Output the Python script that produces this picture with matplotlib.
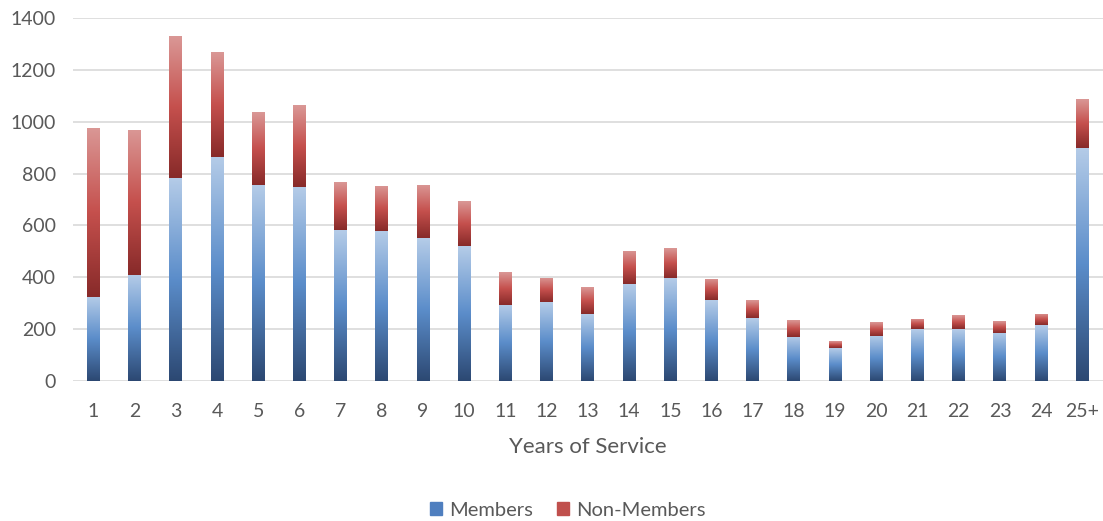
import numpy as np
import matplotlib.pyplot as plt
from matplotlib.colors import LinearSegmentedColormap
from matplotlib.patches import Patch

years = ["1", "2", "3", "4", "5", "6", "7", "8", "9", "10", "11", "12", "13",
         "14", "15", "16", "17", "18", "19", "20", "21", "22", "23", "24", "25+"]
members = [325, 410, 785, 865, 758, 750, 582, 580, 552, 521, 294, 303, 258,
           374, 397, 312, 243, 170, 126, 175, 199, 199, 186, 215, 900]
non_members = [653, 560, 547, 403, 281, 316, 185, 174, 206, 173, 127, 94, 104,
               129, 115, 83, 69, 65, 26, 52, 41, 54, 46, 43, 188]

plt.rcParams['font.family'] = ['Lato', 'DejaVu Sans']
text_col = '#595959'

blue_cm = LinearSegmentedColormap.from_list(
    'blue', [(0, '#2C4872'), (0.5, '#5B8DCA'), (1, '#B5CCE8')])
red_cm = LinearSegmentedColormap.from_list(
    'red', [(0, '#872A29'), (0.5, '#C5504D'), (1, '#DA9896')])

fig = plt.figure(figsize=(11.03, 5.21), dpi=100)
ax = fig.add_axes([0.066, 0.269, 0.934, 0.696])

x = np.arange(len(years))
w = 0.315
b1 = ax.bar(x, members, w, color='none', edgecolor='none', label='Members')
b2 = ax.bar(x, non_members, w, bottom=members, color='none', edgecolor='none',
            label='Non-Members')

grad = np.linspace(0, 1, 256).reshape(-1, 1)


def fill_gradient(bars, cmap):
    for r in bars:
        x0, y0 = r.get_x(), r.get_y()
        x1, y1 = x0 + r.get_width(), y0 + r.get_height()
        im = ax.imshow(grad, cmap=cmap, origin='lower', aspect='auto',
                       extent=(x0, x1, y0, y1), zorder=2, interpolation='bicubic')
        im.set_clip_path(r)


fill_gradient(b1, blue_cm)
fill_gradient(b2, red_cm)

ax.set_xlim(-0.5, len(years) - 0.5)
ax.set_ylim(0, 1400)
ax.set_yticks(range(0, 1401, 200))
ax.set_xticks(x)
ax.set_xticklabels(years)
ax.grid(axis='y', color='#D9D9D9', linewidth=1.2)
ax.set_axisbelow(True)
for s in ax.spines.values():
    s.set_visible(False)
ax.tick_params(length=0, labelsize=14, colors=text_col, pad=16)
ax.tick_params(axis='y', pad=12)
ax.set_xlabel("Years of Service", fontsize=16, color=text_col, labelpad=12)

handles = [Patch(color='#4F7FBF'), Patch(color='#C0504D')]
fig.legend(handles, ['Members', 'Non-Members'], loc='center',
           bbox_to_anchor=(0.515, 0.021), ncol=2, frameon=False,
           fontsize=14.5, labelcolor=text_col, handlelength=0.6,
           handleheight=0.6, handletextpad=0.35, columnspacing=1.2)

fig.savefig('out.png', dpi=100)
